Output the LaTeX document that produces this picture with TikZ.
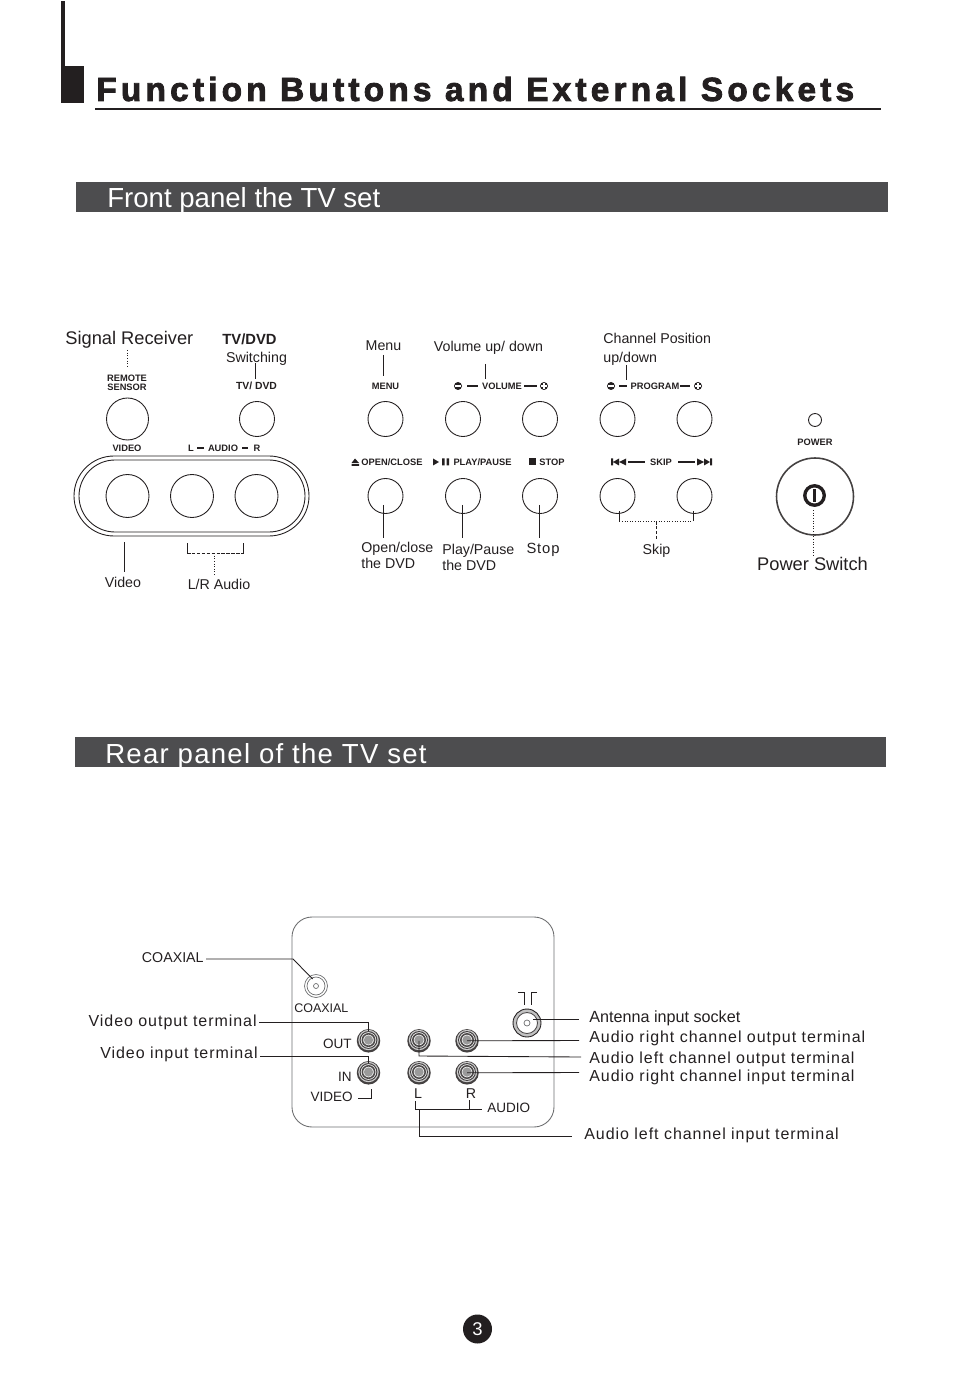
\documentclass[tikz,border=0pt]{standalone}
\usepackage{fontspec}
\setmainfont{Liberation Sans}
\newfontfamily\titlefont[LetterSpace=12.6,BoldFeatures={FakeBold=2.5}]{Liberation Sans}
\newfontfamily\widefont[LetterSpace=6]{Liberation Sans}
\newfontfamily\rearfont[LetterSpace=4.5]{Liberation Sans}
\usetikzlibrary{arrows.meta, positioning}
\definecolor{barcolor}{HTML}{4D4D4F}
\definecolor{inkblack}{HTML}{231F20}
\definecolor{rcagray}{HTML}{9A9A9A}
\definecolor{boxgray}{HTML}{6D6E70}
\newcommand{\fsize}[1]{\fontsize{#1}{#1}\selectfont}
\tikzset{
  lbl/.style={inner sep=0pt, text=inkblack, font=\fsize{8.1}, text height=5.8pt, text depth=0pt},
  biglbl/.style={inner sep=0pt, text=inkblack, font=\fsize{#1}, text height=#1*0.716pt, text depth=0pt},
  tinylbl/.style={inner sep=0pt, text=inkblack, font=\fsize{5.3}\bfseries},
  widelbl/.style={inner sep=0pt, text=inkblack, font=\widefont\fsize{9.1}, text height=6.5pt, text depth=0pt},
  btn/.style={circle, draw=inkblack, line width=.5pt, inner sep=0pt, minimum size=#1*0.04cm},
  rca/.style={circle, fill=inkblack!85, inner sep=0pt, minimum size=0.47cm},
  lead/.style={draw=inkblack, line width=.5pt},
  dotlead/.style={draw=inkblack, line width=.5pt, densely dotted},
  dashlead/.style={draw=inkblack, line width=.5pt, dash pattern=on 2pt off .8pt},
  gapline/.style={shorten >=#1},
  panelbar/.style={fill=barcolor},
  blackmark/.style={fill=inkblack},
  dashmark/.style={draw=inkblack, line width=1pt},
  knob/.style={circle, fill=inkblack, inner sep=0pt, minimum size=0.16cm}
}
\begin{document}
\begin{tikzpicture}[x=0.02cm, y=-0.02cm]
  \useasboundingbox (0,0) rectangle (954,1381);
  % heading
  \fill[inkblack] (61,1) rectangle (65,103);
  \fill[inkblack] (65,66) rectangle (84,103);
  \node[inner sep=0pt, anchor=west, text=inkblack, font=\titlefont\fsize{19}\bfseries, text height=13.6pt, text depth=0pt] (title) at (96,89)
    {Function Buttons and External Sockets};
  \fill[inkblack] (95,108) rectangle (881,110.5);
  % section bars
  \fill[panelbar] (76,182) rectangle (888,212);
  \node[biglbl=15.7, anchor=west, text=white] (fronttitle) at (107,198) {Front panel the TV set};
  \fill[panelbar] (75,737) rectangle (886,767);
  \node[biglbl=15.7, anchor=west, text=white, font=\rearfont\fsize{15.7}] (reartitle) at (105,754) {Rear panel of the TV set};

  % front panel buttons
  \foreach \name/\x/\y/\r in {
    sensor/127.5/419/21, tvdvd/257/419/17.5,
    video/127.5/496/21.5, audiol/192/496/21.5, audior/256.5/496/21.5,
    menu/385.5/419/17.5, volminus/463/419/17.5, volplus/540/419/17.5,
    progminus/617.5/419/17.5, progplus/694.5/419/17.5,
    openclose/385.5/496/17.5, playpause/463/496/17.5, stopbtn/540/496/17.5,
    skipback/617.5/496/17.5, skipnext/694.5/496/17.5,
    powerled/815/420/6.5}{
    \node[btn=\r] (\name) at (\x,\y) {};
  }
  \draw[lead, rounded corners=0.8cm] (74,456) rectangle (309,536);
  \draw[lead, rounded corners=0.72cm] (79,460) rectangle (305,532);
  \node[btn=38.5, line width=.9pt, draw=inkblack!85] (power) at (815,496.5) {};
  \node[circle, draw=inkblack, line width=1.9pt, inner sep=0pt, minimum size=0.39cm] (powericon) at (814.5,495.5) {};
  \fill[inkblack] (813,489) rectangle (816,502);

  % front panel captions
  \foreach \name/\x/\y/\txt in {
    capsensor/127/383/{REMOTE\\SENSOR},
    capvideo/127/448/{VIDEO}, capl/191/448/{L}, capaudio/223/448/{AUDIO}, capr/257/448/{R},
    capmenu/385.5/386/{MENU}, capvol/502/386/{VOLUME}, capprog/655/386/{PROGRAM},
    capopen/392/462/{OPEN/CLOSE}, capplay/482.5/462/{PLAY/PAUSE}, capstop/552/462/{STOP},
    capskip/661/462/{SKIP}, cappower/815/442/{POWER}}{
    \node[tinylbl, align=center] (\name) at (\x,\y) {\txt};
  }
  \node[tinylbl, font=\fsize{5.9}\bfseries] (captvdvd) at (256.5,386) {TV/ DVD};
  \foreach \xa/\xb/\y in {197/204/448, 242/248/448, 467/478/386, 524/537/386,
    619/627/386, 680/690/386, 628/645/462, 678/695/462}{
    \draw[dashmark] (\xa,\y) -- (\xb,\y);
  }
  \foreach \name/\x in {markvolm/458, markprogm/611}{
    \node[knob] (\name) at (\x,386) {};
    \draw[white, line width=.6pt] (\x-3,386) -- (\x+3,386);
  }
  \foreach \name/\x in {markvolp/544, markprogp/698}{
    \node[knob] (\name) at (\x,386) {};
    \draw[white, line width=.6pt] (\x-2.8,386) -- (\x+2.8,386) (\x,383.2) -- (\x,388.8);
  }
  % transport marks
  \fill[blackmark] (355,458.5) -- (359,463) -- (351.5,463) -- cycle (351.5,464) rectangle (359,466);
  \fill[blackmark] (433,458.5) -- (439,462) -- (433,465.5) -- cycle;
  \fill[blackmark] (442,458.5) rectangle (444.5,465.5) (446.5,458.5) rectangle (449,465.5);
  \fill[blackmark] (529,458.5) rectangle (536,465.5);
  \fill[blackmark] (611,458.5) rectangle (613,465.5) (613,462) -- (619,458.5) -- (619,465.5) -- cycle
    (619,462) -- (626,458.5) -- (626,465.5) -- cycle;
  \fill[blackmark] (710,458.5) rectangle (712,465.5) (710,462) -- (704,458.5) -- (704,465.5) -- cycle
    (704,462) -- (697,458.5) -- (697,465.5) -- cycle;

  % front panel labels
  \node[biglbl=10.4, anchor=west] (signal) at (65,338) {Signal Receiver};
  \node[inner sep=0pt, text=inkblack, font=\fsize{8.4}\bfseries] (tvdvdtop) at (249.5,339) {TV/DVD};
  \foreach \name/\x/\y/\txt in {
    switching/256.5/357/{Switching}, menutxt/383.5/345/{Menu},
    volumetxt/488.5/346/{Volume up/ down}, videotxt/123/582/{Video},
    lraudio/219/584/{L/R Audio}, skiptxt/656.5/549/{Skip}}{
    \node[lbl] (\name) at (\x,\y) {\txt};
  }
  \foreach \name/\x/\y/\txt in {
    channel/603/338/{Channel Position}, updown/603/357/{up/down},
    opentxt/361/547/{Open/close}, opendvd/361/563/{the DVD},
    playtxt/442/549/{Play/Pause}, playdvd/442/565/{the DVD}}{
    \node[lbl, anchor=west] (\name) at (\x,\y) {\txt};
  }
  \node[biglbl=8.4, font=\widefont\fsize{8.4}] (stoptxt) at (543,548) {Stop};
  \node[biglbl=10.4] (powertxt) at (812.5,564) {Power Switch};

  % front panel leaders
  \coordinate (sigtop) at (127.5,350);
  \coordinate (tvtop) at (255,363);
  \coordinate (menutop) at (383.7,355);
  \coordinate (voltop) at (485.3,364);
  \coordinate (progtop) at (626,365);
  \coordinate (vidlow) at (124,542);
  \coordinate (lrleft) at (187,553);
  \coordinate (lrright) at (243.5,553);
  \coordinate (lrjoin) at (214,553);
  \coordinate (skipleft) at (619.3,521);
  \coordinate (skipright) at (693,521);
  \coordinate (skipjoin) at (656.5,521);
  \draw[dotlead] (sigtop) -- (127.5,368);
  \draw[lead, gapline=1.7pt] (tvtop) -- (tvtop |- captvdvd.north);
  \draw[lead, gapline=3.4pt] (menutop) -- (menutop |- capmenu.north);
  \draw[lead, gapline=1.7pt] (voltop) -- (voltop |- capvol.north);
  \draw[lead, gapline=1.2pt] (progtop) -- (progtop |- capprog.north);
  \draw[lead, gapline=2.5pt] (vidlow) -- (vidlow |- videotxt.north);
  \draw[lead] (lrleft) -- ++(0,-10);
  \draw[lead] (lrright) -- ++(0,-10);
  \draw[dashlead] (lrleft) -- (lrright);
  \draw[dotlead, gapline=2.5pt] (lrjoin) -- (lrjoin |- lraudio.north);
  \foreach \name/\dx in {openclose/-1, playpause/-0.6, stopbtn/-0.4}{
    \draw[lead, shorten <=5pt] ([xshift=\dx pt]\name.center) -- ++(0,42);
  }
  \draw[lead] (skipleft) -- ++(0,-10);
  \draw[lead] (skipright) -- ++(0,-10);
  \draw[dotlead] (skipleft) -- (skipright);
  \draw[dashlead, gapline=2.5pt] (skipjoin) -- (skipjoin |- skiptxt.north);
  \draw[dotlead] (813.3,510) -- (813.3,555);

  % rear panel
  \draw[boxgray, line width=.5pt, rounded corners=0.4cm] (292,917) rectangle (554,1127);
  \node[circle, draw=boxgray, line width=.4pt, inner sep=0pt, minimum size=0.46cm] (coaxial) at (316,986) {};
  \node[circle, draw=boxgray, line width=.4pt, inner sep=0pt, minimum size=0.36cm] (coaxialin) at (316,986) {};
  \node[circle, draw=boxgray, line width=.4pt, inner sep=0pt, minimum size=0.1cm] (coaxialpin) at (316,986) {};
  \node[circle, draw=inkblack, fill=rcagray!60, line width=.5pt, inner sep=0pt, minimum size=0.56cm] (antenna) at (527,1023) {};
  \node[circle, draw=inkblack!80, fill=white, line width=.5pt, inner sep=0pt, minimum size=0.42cm] (antennain) at (527,1023) {};
  \node[circle, draw=boxgray, line width=.4pt, inner sep=0pt, minimum size=0.12cm] (antennapin) at (527,1023) {};
  \draw[lead] (518,992) -- (524,992) -- (524,1005) (537,992) -- (531.5,992) -- (531.5,1005);
  \foreach \name/\x/\y in {
    vidout/368.5/1040, audlout/419/1040, audrout/467/1040,
    vidin/368.5/1072, audlin/419/1072, audrin/467/1072}{
    \node[rca] (\name) at (\x,\y+0.8) {};
    \fill[gray!40] (\x,\y) circle (10.2);
    \draw[inkblack!85, line width=.6pt, fill=white] (\x,\y) circle (8.4);
    \draw[inkblack!80, line width=.9pt, fill=gray!15] (\x,\y) circle (6.2);
    \fill[rcagray] (\x,\y) circle (4.6);
  }

  % rear panel labels
  \node[lbl, anchor=east] (coaxtop) at (204,957) {COAXIAL};
  \foreach \name/\x/\y/\txt in {
    outtxt/352/1044/{OUT}, intxt/352/1077/{IN}, videocap/353/1097/{VIDEO}}{
    \node[biglbl=7.7, anchor=east] (\name) at (\x,\y) {\txt};
  }
  \node[biglbl=7.1, anchor=west] (coaxcap) at (294,1008) {COAXIAL};
  \node[lbl] (ltxt) at (418,1093) {L};
  \node[lbl] (rtxt) at (471,1093) {R};
  \node[biglbl=7.7, anchor=west] (audiocap) at (487,1108) {AUDIO};
  \node[widelbl, anchor=east] (vidouttxt) at (257,1021) {Video output terminal};
  \node[widelbl, anchor=east] (vidintxt) at (258,1053) {Video input terminal};
  \node[biglbl=9.2, anchor=west] (anttxt) at (589,1017) {Antenna input socket};
  \foreach \name/\x/\y/\txt in {
    routtxt/589/1037/{Audio right channel output terminal},
    louttxt/589/1058/{Audio left channel output terminal},
    rintxt/589/1076/{Audio right channel input terminal},
    lintxt/584/1134/{Audio left channel input terminal}}{
    \node[widelbl, anchor=west] (\name) at (\x,\y) {\txt};
  }

  % rear panel leaders
  \coordinate (coaxbend) at (293,959);
  \coordinate (coaxend) at (312.7,979);
  \coordinate (antstart) at (533,1019);
  \coordinate (routend) at (579,1040.5);
  \coordinate (loutbend) at (419,1056);
  \coordinate (loutend) at (581,1057);
  \coordinate (rinend) at (579,1072.5);
  \coordinate (linbend) at (419,1136);
  \coordinate (linend) at (572,1136);
  \coordinate (audiobend) at (415,1109);
  \coordinate (linjoin) at (419,1109);
  \coordinate (rjoin) at (469,1109);
  \coordinate (videobend) at (371,1098.5);
  \draw[lead] (coaxtop.east |- coaxbend) ++(2,0) -- (coaxbend) -- (coaxend);
  \draw[lead] (vidouttxt.east |- 0,1022) ++(2,0) -| ([yshift=-1.4pt]vidout.north);
  \draw[lead] (vidintxt.east |- 0,1056) ++(2,0) -| ([yshift=-1.4pt]vidin.north);
  \draw[lead] (antstart) -- ++(46,0);
  \draw[lead] (audrout.center) -- (routend);
  \draw[lead] (audlout.center) -- (loutbend) -- (loutend);
  \draw[lead] (audrin.center) -- (rinend);
  \draw[lead] (linjoin) -- (linbend) -- (linend);
  \draw[lead] (audiobend) ++(0,-8) -- (audiobend) -- ([xshift=-2.8pt]audiocap.west |- audiobend);
  \draw[lead] (rjoin) -- ++(0,-9);
  \draw[lead] (videocap.east |- videobend) ++(5,0) -- (videobend) -- ++(0,-9.5);

  % page number
  \node[circle, fill=inkblack, text=white, inner sep=0pt, minimum size=0.58cm, font=\fsize{10.5}] (pagenum) at (477.5,1329) {3};
\end{tikzpicture}
\end{document}
